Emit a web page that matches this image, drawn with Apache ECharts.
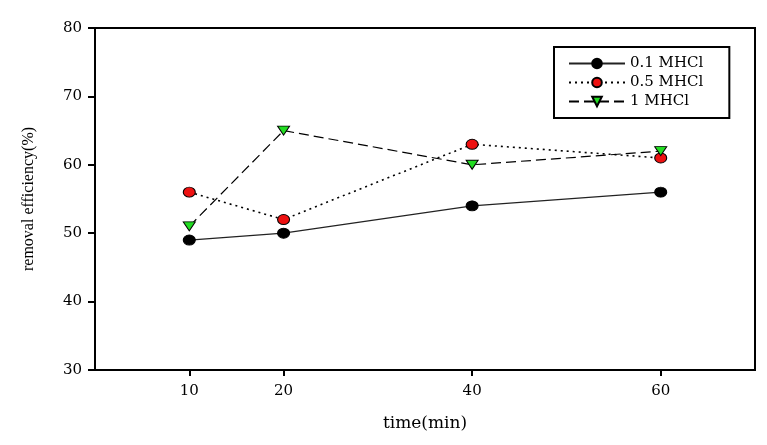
<!DOCTYPE html>
<html><head><meta charset="utf-8">
<script src="https://cdn.jsdelivr.net/npm/echarts@6/dist/echarts.min.js"></script>
<style>html,body{margin:0;padding:0;background:#fff}#c{width:767px;height:445px}</style>
</head><body><div id="c"></div>
<script>
const times = [10, 20, 40, 60];
const xTicks = [10, 20, 40, 60];
const yTicks = [30, 40, 50, 60, 70, 80];
const s01 = [49, 50, 54, 56];
const s05 = [56, 52, 63, 61];
const s1 = [51, 65, 60, 62];
const names = ['0.1 MHCl', '0.5 MHCl', '1 MHCl'];

const font = '"DejaVu Serif", "Liberation Serif", serif';
const pair = arr => times.map((t, i) => [t, arr[i]]);
const chart = echarts.init(document.getElementById('c'));
chart.setOption({
  animation: false,
  backgroundColor: '#fff',
  textStyle: { fontFamily: font },
  grid: { left: 95, right: 12, top: 28, bottom: 75, show: true, borderColor: '#000', borderWidth: 2, backgroundColor: 'transparent' },
  legend: {
    left: 554, top: 47, orient: 'vertical', itemGap: 4, itemWidth: 56, itemHeight: 12,
    padding: [9, 26, 9, 14],
    borderColor: '#000', borderWidth: 2, borderRadius: 0,
    textStyle: { fontFamily: font, fontSize: 15, lineHeight: 14, color: '#000' },
    data: names
  },
  xAxis: {
    type: 'value', min: 0, max: 70, interval: 10,
    name: 'time(min)', nameLocation: 'middle', nameGap: 45,
    nameTextStyle: { fontFamily: font, fontSize: 17, color: '#000' },
    axisLine: { show: true, lineStyle: { color: '#000', width: 2 } },
    axisTick: { show: true, length: 6, lineStyle: { color: '#000', width: 2 }, customValues: xTicks },
    axisLabel: { show: true, fontFamily: font, fontSize: 15, color: '#000', margin: 14, customValues: xTicks },
    splitLine: { show: false }
  },
  yAxis: {
    type: 'value', min: 30, max: 80, interval: 10,
    name: 'removal efficiency(%)', nameLocation: 'middle', nameGap: 58, nameRotate: 90,
    nameTextStyle: { fontFamily: '"Liberation Serif", serif', fontSize: 16, color: '#000' },
    axisLine: { show: true, lineStyle: { color: '#000', width: 2 } },
    axisTick: { show: true, length: 7, lineStyle: { color: '#000', width: 2 } },
    axisLabel: { fontFamily: font, fontSize: 15, color: '#000', margin: 13, customValues: yTicks },
    splitLine: { show: false }
  },
  series: [
    { name: names[0], type: 'line', data: pair(s01), symbol: 'circle', symbolSize: [12, 10],
      lineStyle: { color: '#222', width: 1.2, type: 'solid' },
      itemStyle: { color: '#000', borderColor: '#000', borderWidth: 1 } },
    { name: names[1], type: 'line', data: pair(s05), symbol: 'circle', symbolSize: [12, 10],
      lineStyle: { color: '#000', width: 1.6, type: [2, 4] },
      itemStyle: { color: '#ee1111', borderColor: '#000', borderWidth: 1 } },
    { name: names[2], type: 'line', data: pair(s1), symbol: 'triangle', symbolRotate: 180, symbolSize: [12, 9],
      lineStyle: { color: '#000', width: 1.2, type: [10, 5] },
      itemStyle: { color: '#22dd22', borderColor: '#000', borderWidth: 1 } }
  ]
});
</script></body></html>
